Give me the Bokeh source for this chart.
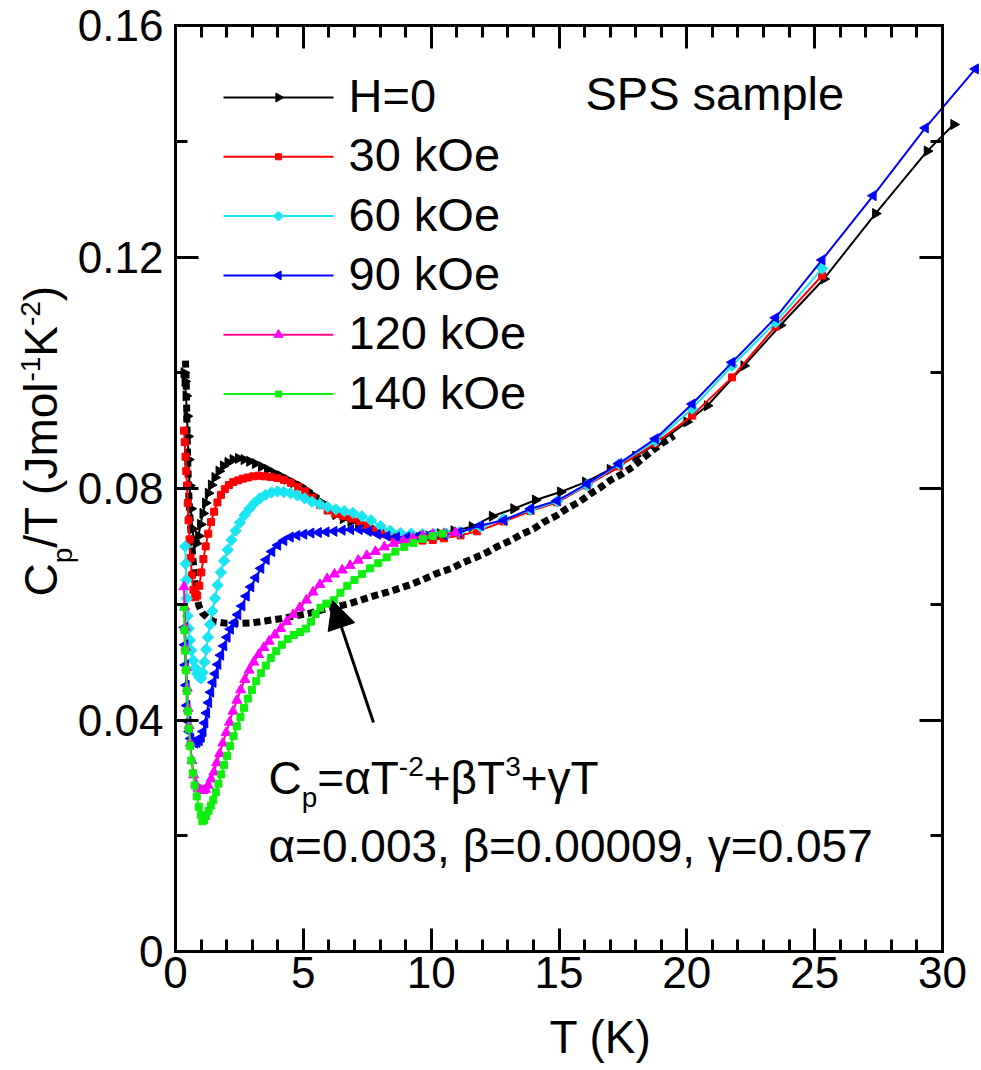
import math
from bokeh.plotting import figure
from bokeh.models import (Range1d, LinearAxis, SingleIntervalTicker, Label, Arrow, NormalHead,
                          CustomJSTickFormatter)
from bokeh.embed import file_html
from bokeh.resources import INLINE

# ---------------- data ----------------
T_H0 = [0.33, 0.37, 0.41, 0.45, 0.48, 0.51, 0.55, 0.60, 0.66, 0.73, 0.81, 0.90, 0.98, 1.07, 1.17,
        1.28, 1.40, 1.54, 1.70, 1.87, 2.05, 2.25, 2.46, 2.68, 2.90, 3.12, 3.36, 3.60, 3.85, 4.10,
        4.36, 4.62, 4.89, 5.15, 5.42, 5.70, 5.98, 6.27, 6.56, 6.86, 7.16, 7.47, 7.78, 8.10, 8.43,
        8.77, 9.12, 9.50, 9.90, 10.35, 10.89, 11.60, 12.39, 13.23, 14.08, 15.06, 16.04, 17.00,
        18.00, 19.00, 20.00, 20.80, 22.23, 23.66, 25.36, 27.38, 29.40, 30.44]
C_H0 = [0.1000, 0.0985, 0.0960, 0.0925, 0.0890, 0.0850, 0.0805, 0.0765, 0.0730, 0.0710, 0.0705,
        0.0718, 0.0738, 0.0757, 0.0775, 0.0792, 0.0806, 0.0819, 0.0830, 0.0839, 0.0845, 0.0850,
        0.0852, 0.0850, 0.0847, 0.0843, 0.0838, 0.0833, 0.0827, 0.0822, 0.0816, 0.0810, 0.0804,
        0.0796, 0.0787, 0.0776, 0.0765, 0.0755, 0.0748, 0.0743, 0.0739, 0.0734, 0.0729, 0.0724,
        0.0720, 0.0718, 0.0716, 0.0716, 0.0718, 0.0722, 0.0727, 0.0734, 0.0752, 0.0765, 0.0780,
        0.0794, 0.0811, 0.0833, 0.0856, 0.0882, 0.0915, 0.0943, 0.1012, 0.1082, 0.1162, 0.1275,
        0.1383, 0.1429]

T_30 = [0.33, 0.36, 0.39, 0.42, 0.45, 0.48, 0.51, 0.55, 0.59, 0.64, 0.70, 0.77, 0.85, 0.93, 1.01,
        1.09, 1.18, 1.28, 1.39, 1.51, 1.64, 1.78, 1.93, 2.09, 2.26, 2.44, 2.63, 2.83, 3.04, 3.26,
        3.49, 3.73, 3.98, 4.24, 4.51, 4.79, 5.07, 5.36, 5.65, 5.95, 6.25, 6.56, 6.87, 7.19, 7.51,
        7.84, 8.18, 8.53, 8.89, 9.27, 9.66, 10.06, 10.50, 11.15, 11.80, 12.84, 13.89, 14.93, 16.10,
        17.34, 18.77, 20.21, 21.77, 23.47, 25.29]
C_30 = [0.0900, 0.0880, 0.0855, 0.0830, 0.0805, 0.0775, 0.0745, 0.0712, 0.0680, 0.0650, 0.0625,
        0.0612, 0.0615, 0.0632, 0.0655, 0.0678, 0.0700, 0.0722, 0.0742, 0.0760, 0.0776, 0.0789,
        0.0799, 0.0806, 0.0811, 0.0814, 0.0817, 0.0819, 0.0821, 0.0822, 0.0821, 0.0820, 0.0818,
        0.0815, 0.0810, 0.0803, 0.0795, 0.0784, 0.0772, 0.0762, 0.0756, 0.0752, 0.0748, 0.0743,
        0.0736, 0.0728, 0.0721, 0.0716, 0.0712, 0.0710, 0.0710, 0.0711, 0.0714, 0.0719, 0.0726,
        0.0743, 0.0761, 0.0776, 0.0805, 0.0838, 0.0878, 0.0926, 0.0992, 0.1080, 0.1168]

T_60 = [0.38, 0.40, 0.42, 0.44, 0.47, 0.51, 0.56, 0.62, 0.69, 0.77, 0.85, 0.93, 1.00, 1.06, 1.13,
        1.20, 1.27, 1.35, 1.44, 1.54, 1.65, 1.77, 1.90, 2.04, 2.19, 2.35, 2.52, 2.70, 2.89, 3.09,
        3.30, 3.52, 3.75, 3.99, 4.24, 4.50, 4.77, 5.05, 5.34, 5.64, 5.95, 6.27, 6.60, 6.94, 7.29,
        7.65, 8.02, 8.40, 8.80, 9.22, 9.66, 10.12, 10.60, 11.10, 11.93, 12.84, 13.89, 14.93, 16.10,
        17.34, 18.77, 20.21, 21.77, 23.47, 25.29]
C_60 = [0.0700, 0.0670, 0.0642, 0.0610, 0.0580, 0.0558, 0.0538, 0.0520, 0.0503, 0.0490, 0.0480,
        0.0474, 0.0472, 0.0482, 0.0500, 0.0522, 0.0543, 0.0565, 0.0588, 0.0610, 0.0633, 0.0655,
        0.0675, 0.0694, 0.0711, 0.0727, 0.0741, 0.0754, 0.0765, 0.0775, 0.0783, 0.0789, 0.0793,
        0.0795, 0.0794, 0.0792, 0.0788, 0.0783, 0.0777, 0.0773, 0.0768, 0.0764, 0.0761, 0.0758,
        0.0752, 0.0745, 0.0735, 0.0727, 0.0723, 0.0722, 0.0721, 0.0721, 0.0722, 0.0725, 0.0734,
        0.0747, 0.0763, 0.0778, 0.0806, 0.0842, 0.0882, 0.0938, 0.1012, 0.1087, 0.1180]

T_90 = [0.35, 0.37, 0.39, 0.42, 0.45, 0.49, 0.54, 0.60, 0.67, 0.75, 0.84, 0.93, 1.01, 1.08, 1.15,
        1.22, 1.30, 1.38, 1.47, 1.56, 1.66, 1.77, 1.89, 2.02, 2.15, 2.29, 2.44, 2.60, 2.77, 2.95,
        3.14, 3.34, 3.55, 3.77, 4.00, 4.24, 4.49, 4.75, 5.02, 5.30, 5.59, 5.89, 6.20, 6.52, 6.85,
        7.19, 7.54, 7.90, 8.27, 8.65, 9.05, 9.46, 9.89, 10.50, 11.08, 11.93, 12.84, 13.89, 14.93,
        16.10, 17.34, 18.77, 20.21, 21.77, 23.47, 25.29, 27.29, 29.33, 31.29]
C_90 = [0.0560, 0.0530, 0.0495, 0.0460, 0.0425, 0.0398, 0.0380, 0.0368, 0.0362, 0.0360, 0.0361,
        0.0364, 0.0370, 0.0380, 0.0395, 0.0412, 0.0430, 0.0448, 0.0465, 0.0480, 0.0496, 0.0512,
        0.0528, 0.0543, 0.0557, 0.0568, 0.0582, 0.0597, 0.0614, 0.0630, 0.0646, 0.0662, 0.0677,
        0.0691, 0.0702, 0.0710, 0.0716, 0.0719, 0.0721, 0.0723, 0.0724, 0.0725, 0.0726, 0.0728,
        0.0729, 0.0729, 0.0726, 0.0721, 0.0718, 0.0716, 0.0716, 0.0717, 0.0719, 0.0720, 0.0724,
        0.0736, 0.0745, 0.0765, 0.0779, 0.0808, 0.0843, 0.0886, 0.0946, 0.1018, 0.1095, 0.1195,
        0.1306, 0.1423, 0.1525]

T_120 = [0.33, 0.36, 0.38, 0.40, 0.43, 0.46, 0.49, 0.53, 0.58, 0.64, 0.71, 0.79, 0.88, 0.98, 1.08,
         1.18, 1.28, 1.39, 1.50, 1.61, 1.73, 1.85, 1.98, 2.11, 2.25, 2.40, 2.55, 2.71, 2.88, 3.06,
         3.25, 3.45, 3.66, 3.88, 4.11, 4.35, 4.60, 4.86, 5.12, 5.38, 5.65, 5.93, 6.22, 6.52, 6.83,
         7.15, 7.48, 7.82, 8.17, 8.53, 8.90, 9.28, 9.67, 10.07, 10.50, 10.95]
C_120 = [0.0630, 0.0595, 0.0560, 0.0525, 0.0490, 0.0455, 0.0420, 0.0390, 0.0360, 0.0330, 0.0305,
         0.0290, 0.0282, 0.0279, 0.0278, 0.0280, 0.0287, 0.0298, 0.0310, 0.0326, 0.0342, 0.0360,
         0.0378, 0.0396, 0.0415, 0.0434, 0.0452, 0.0470, 0.0486, 0.0500, 0.0513, 0.0525, 0.0536,
         0.0547, 0.0558, 0.0570, 0.0582, 0.0594, 0.0607, 0.0621, 0.0634, 0.0644, 0.0652, 0.0659,
         0.0667, 0.0676, 0.0684, 0.0691, 0.0699, 0.0705, 0.0710, 0.0714, 0.0718, 0.0721, 0.0722,
         0.0724]

T_140 = [0.33, 0.35, 0.38, 0.41, 0.44, 0.48, 0.52, 0.57, 0.62, 0.68, 0.75, 0.83, 0.91, 0.99, 1.05,
         1.12, 1.20, 1.29, 1.38, 1.48, 1.58, 1.68, 1.79, 1.90, 2.02, 2.14, 2.27, 2.40, 2.54, 2.68,
         2.83, 2.99, 3.16, 3.34, 3.53, 3.73, 3.94, 4.16, 4.39, 4.63, 4.88, 5.10, 5.30, 5.48, 5.67,
         5.90, 6.19, 6.45, 6.72, 7.00, 7.30, 7.61, 7.93, 8.26, 8.60, 8.95, 9.31, 9.68, 10.06, 10.45]
C_140 = [0.0595, 0.0555, 0.0520, 0.0486, 0.0450, 0.0415, 0.0385, 0.0355, 0.0330, 0.0308, 0.0287,
         0.0268, 0.0250, 0.0236, 0.0225, 0.0227, 0.0234, 0.0243, 0.0252, 0.0262, 0.0275, 0.0290,
         0.0306, 0.0322, 0.0338, 0.0355, 0.0372, 0.0389, 0.0405, 0.0421, 0.0437, 0.0452, 0.0467,
         0.0481, 0.0494, 0.0507, 0.0519, 0.0530, 0.0540, 0.0547, 0.0552, 0.0558, 0.0570, 0.0583,
         0.0594, 0.0601, 0.0607, 0.0620, 0.0632, 0.0642, 0.0652, 0.0662, 0.0671, 0.0681, 0.0691,
         0.0699, 0.0706, 0.0713, 0.0718, 0.0722]

# fit curve Cp = aT^-2 + bT^3 + gT  (plotted as Cp/T)
T_FIT = [0.39, 0.42, 0.44, 0.46, 0.49, 0.52, 0.56, 0.62, 0.68, 0.75, 0.82, 0.91, 1.05, 1.24, 1.50,
         2.0, 2.5, 3.0, 3.5, 4.1, 4.6, 5.3, 5.8, 6.3, 6.8, 7.3, 7.8, 8.3, 8.8, 9.2, 9.7, 10.2, 10.8,
         11.2, 11.7, 12.2, 12.6, 13.1, 13.5, 14.0, 14.4, 14.9, 15.3, 15.8, 16.2, 16.6, 17.0, 17.5,
         17.9, 18.3, 18.7, 19.1, 19.5]
C_FIT = [0.1021, 0.0985, 0.0930, 0.0880, 0.0830, 0.0790, 0.0755, 0.0715, 0.0680, 0.0645, 0.0615,
         0.0598, 0.0585, 0.0577, 0.0570, 0.0567, 0.0567, 0.0568, 0.0571, 0.0575, 0.0579, 0.0585,
         0.0591, 0.0596, 0.0601, 0.0608, 0.0615, 0.0621, 0.0628, 0.0634, 0.0643, 0.0653, 0.0662,
         0.0671, 0.0680, 0.0690, 0.0700, 0.0710, 0.0720, 0.0730, 0.0742, 0.0753, 0.0765, 0.0777,
         0.0790, 0.0801, 0.0814, 0.0826, 0.0838, 0.0853, 0.0867, 0.0880, 0.0891]

SERIES_LABELS = ["H=0", "30 kOe", "60 kOe", "90 kOe", "120 kOe", "140 kOe"]
X_TICK_STEP = 5
Y_TICK_STEP = 0.04

# ---------------- geometry (page pixels) ----------------
CANVAS_W, CANVAS_H = 980, 1068
X0_PX, X30_PX = 175, 942          # T = 0 and T = 30
Y0_PX, Y16_PX = 951, 25           # Cp/T = 0 and 0.16
T_AXIS_END = 30
V_AXIS_END = 0.16
PX_PER_T = (X30_PX - X0_PX) / T_AXIS_END
PX_PER_V = (Y0_PX - Y16_PX) / V_AXIS_END
BASE_FIX = 0.36                    # baseline correction (fraction of the font size)


def tx(px):
    return (px - X0_PX) / PX_PER_T


def vy(py):
    return (Y0_PX - py) / PX_PER_V


FONT = "Liberation Sans"

p = figure(width=CANVAS_W, height=CANVAS_H,
           x_range=Range1d(tx(0), tx(CANVAS_W)), y_range=Range1d(vy(CANVAS_H), vy(0)),
           output_backend="svg", toolbar_location=None, x_axis_location=None, y_axis_location=None,
           min_border=0, min_border_left=0, min_border_right=0, min_border_top=0,
           min_border_bottom=0)
p.outline_line_color = None
p.background_fill_color = "white"
p.border_fill_color = "white"
for g in p.grid:
    g.visible = False


def style_axis(ax, labels=True):
    ax.axis_line_width = 3
    ax.axis_line_color = "black"
    ax.axis_line_cap = "square"
    ax.major_tick_line_width = 3
    ax.minor_tick_line_width = 3
    ax.major_tick_line_color = "black"
    ax.minor_tick_line_color = "black"
    ax.major_tick_in = 23
    ax.major_tick_out = 0
    ax.minor_tick_in = 12
    ax.minor_tick_out = 0
    ax.major_label_text_font = FONT
    ax.major_label_text_font_size = "44px" if labels else "0px"
    ax.major_label_text_color = "black"


xticker = SingleIntervalTicker(interval=X_TICK_STEP, num_minor_ticks=5)
yticker = SingleIntervalTicker(interval=Y_TICK_STEP, num_minor_ticks=2)
blank = CustomJSTickFormatter(code="return ''")

bottom = LinearAxis(ticker=xticker, bounds=(0, T_AXIS_END), fixed_location=0)
style_axis(bottom)
bottom.major_label_standoff = 5
p.add_layout(bottom, "below")

top = LinearAxis(ticker=xticker, bounds=(0, T_AXIS_END), fixed_location=V_AXIS_END,
                 formatter=blank)
style_axis(top, labels=False)
p.add_layout(top, "above")

left = LinearAxis(ticker=yticker, bounds=(0, V_AXIS_END), fixed_location=0,
                  major_label_overrides={0: "0"})
style_axis(left)
left.major_label_standoff = 12
p.add_layout(left, "left")

right = LinearAxis(ticker=yticker, bounds=(0, V_AXIS_END), fixed_location=T_AXIS_END,
                   formatter=blank)
style_axis(right, labels=False)
p.add_layout(right, "right")

# fit curve: thick dotted line (square dots)
p.line(T_FIT, C_FIT, line_color="black", line_width=7, line_dash="7 4", line_cap="butt")

series = [
    (T_H0, C_H0, "black", "black", "triangle", -math.pi / 2, 10),
    (T_30, C_30, "#FF0000", "#FF0000", "square", 0.0, 7),
    (T_60, C_60, "#19E6F0", "#19E6F0", "square", math.pi / 4, 8),
    (T_90, C_90, "#0000FF", "#0000FF", "triangle", math.pi / 2, 10),
    (T_120, C_120, "#FF0A8C", "#FF00FF", "triangle", 0.0, 10),
    (T_140, C_140, "#10EE10", "#10EE10", "square", 0.0, 7),
]

for (tt, cc, lcol, mcol, mk, ang, sz) in series:
    p.line(tt, cc, line_color=lcol, line_width=2)
    p.scatter(tt, cc, marker=mk, angle=ang, size=sz, fill_color=mcol, line_color=mcol)

# ---------------- texts ----------------
W = {' ': 278, '(': 333, ')': 333, '+': 584, ',': 278, '-': 333, '.': 278, '/': 278, '=': 584,
     'C': 722, 'H': 722, 'J': 500, 'K': 667, 'O': 778, 'T': 611, 'e': 556, 'k': 500, 'l': 222,
     'm': 833, 'o': 556, 'p': 556, 'a': 556, 's': 500, 'S': 667, 'P': 667,
     '\u03b1': 578, '\u03b2': 575, '\u03b3': 500}


def text_width(s, size):
    return sum(W.get(c, 556) for c in s) * size / 1000.0


def add_label(text, px, py, size, angle=0.0, align="left"):
    # px, py: wanted baseline position in page pixels
    if angle == 0.0:
        py = py - BASE_FIX * size
    else:
        px = px - BASE_FIX * size
    p.add_layout(Label(x=tx(px), y=vy(py), text=text, text_font=FONT,
                       text_font_size=f"{size}px", text_baseline="alphabetic",
                       text_align=align, angle=angle, text_color="black"))


def rich_h(parts, px, py, f, s, sup_shift, sub_shift):
    x = px
    for txt, kind in parts:
        size = f if kind == "n" else s
        dy = 0 if kind == "n" else (-sup_shift if kind == "sup" else sub_shift)
        add_label(txt, x, py + dy, size)
        x += text_width(txt, size)


def rich_v(parts, px, py, f, s, sup_shift, sub_shift):
    # rotated 90 deg CCW: text reads upwards, baseline at page x = px
    y = py
    for txt, kind in parts:
        size = f if kind == "n" else s
        dx = 0 if kind == "n" else (-sup_shift if kind == "sup" else sub_shift)
        add_label(txt, px + dx, y, size, angle=math.pi / 2)
        y -= text_width(txt, size)


# legend (drawn by hand: sample line, marker in its middle, label)
LEG_X0, LEG_X1, LEG_Y0, LEG_DY = 223, 333, 97, 59.3
for i, ((tt, cc, lcol, mcol, mk, ang, sz), lab) in enumerate(zip(series, SERIES_LABELS)):
    yy = vy(LEG_Y0 + i * LEG_DY)
    p.line([tx(LEG_X0), tx(LEG_X1)], [yy, yy], line_color=lcol, line_width=2)
    p.scatter([tx((LEG_X0 + LEG_X1) / 2)], [yy], marker=mk, angle=ang, size=sz - 1,
              fill_color=mcol, line_color=mcol)
    add_label(lab, 348, LEG_Y0 + i * LEG_DY + 15, 47)

# arrow pointing at the fit curve
p.add_layout(Arrow(end=NormalHead(size=28, fill_color="black", line_color="black"),
                   x_start=tx(373), y_start=vy(722), x_end=tx(332), y_end=vy(600),
                   line_color="black", line_width=3))

add_label("SPS sample", 585, 110, 47)
add_label("T (K)", 600, 1053, 46, align="center")

rich_v([("C", "n"), ("p", "sub"), ("/T (Jmol", "n"), ("-1", "sup"), ("K", "n"), ("-2", "sup"),
        (")", "n")], 57, 596, 46, 28, 17, 15)

rich_h([("C", "n"), ("p", "sub"), ("=\u03b1T", "n"), ("-2", "sup"), ("+\u03b2T", "n"),
        ("3", "sup"), ("+\u03b3T", "n")], 268, 794, 46, 28, 18, 13)
add_label("\u03b1=0.003, \u03b2=0.00009, \u03b3=0.057", 268, 862, 46)

open("out.html", "w").write(file_html(p, INLINE))
